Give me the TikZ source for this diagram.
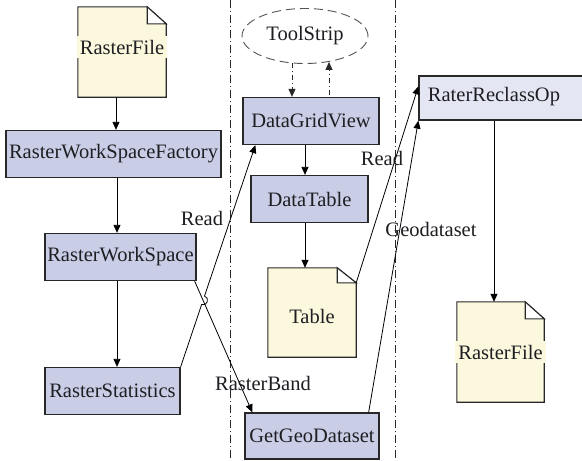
\documentclass[tikz,border=0pt]{standalone}
\usepackage{fontspec}
\setmainfont{Liberation Serif}
\newfontfamily\diagfont{Liberation Serif}
\usetikzlibrary{arrows.meta,calc,shapes.geometric,intersections}
\definecolor{boxfill}{RGB}{201,206,230}
\definecolor{boxfilllt}{RGB}{228,231,243}
\definecolor{docfill}{RGB}{251,248,221}
\definecolor{edge}{RGB}{40,40,40}
\definecolor{txt}{RGB}{30,30,35}
\begin{document}
\begin{tikzpicture}[x=1pt,y=-1pt,
  every node/.style={font=\diagfont\fontsize{20.5}{24}\selectfont, text=txt},
  box/.style={draw=edge, fill=boxfill, line width=1.3pt, inner sep=0pt, minimum height=47pt},
  boxlt/.style={box, fill=boxfilllt},
  docframe/.style={draw=none, inner sep=0pt},
  docline/.style={draw=edge, fill=docfill, line width=1.1pt},
  doctext/.style={fill=docfill, inner xsep=3pt, inner ysep=4pt},
  arr/.style={draw=black, line width=0.8pt, -{Triangle[length=8pt,width=7pt]}},
  ddarr/.style={draw=edge, line width=0.9pt, dash pattern=on 5pt off 3pt on 1pt off 3pt, -{Triangle[length=8pt,width=7pt]}},
  sep/.style={draw=edge, line width=0.8pt, dash pattern=on 8pt off 3pt on 1pt off 3pt},
  lbl/.style={fill=none, inner sep=1pt}
]
\useasboundingbox (0,0) rectangle (582,461);
\fill[white] (0,0) rectangle (582,461);

% separators
\coordinate (s1t) at (230,0); \coordinate (s1b) at (230,461);
\coordinate (s2t) at (395,0); \coordinate (s2b) at (395,461);
\draw[sep] (s1t) -- (s1b);
\draw[sep] (s2t) -- (s2b);

% left column
\node[docframe, minimum width=88pt, minimum height=90pt] (rf1) at (122,52) {};
\draw[docline] (rf1.north west) -- ($(rf1.north east)+(-19,0)$) -- ($(rf1.north east)+(0,17)$) -- (rf1.south east) -- (rf1.south west) -- cycle;
\draw[docline, fill=white] ($(rf1.north east)+(-19,0)$) -- ($(rf1.north east)+(-19,17)$) -- ($(rf1.north east)+(0,17)$) -- cycle;
\node[doctext] (rf1t) at ($(rf1)+(0,-5)$) {RasterFile};

\node[box, minimum width=215pt] (rwsf) at (113.5,154) {RasterWorkSpaceFactory};
\node[box, minimum width=151pt] (rws) at (120.5,257) {RasterWorkSpace};
\node[box, minimum width=135pt] (rst) at (112.5,391) {RasterStatistics};

% middle column
\node[ellipse, draw=edge!80, line width=0.9pt, dash pattern=on 9pt off 5pt, minimum width=126pt, minimum height=55pt, inner sep=0pt] (ts) at (305,36) {ToolStrip};
\node[box, minimum width=136pt] (dgv) at (311,121) {DataGridView};
\node[box, minimum width=117pt] (dt) at (309.5,199) {DataTable};

\node[docframe, minimum width=88pt, minimum height=89pt] (tb) at (312,312.5) {};
\draw[docline] (tb.north west) -- ($(tb.north east)+(-19,0)$) -- ($(tb.north east)+(0,15)$) -- (tb.south east) -- (tb.south west) -- cycle;
\draw[docline, fill=white] ($(tb.north east)+(-19,0)$) -- ($(tb.north east)+(-19,15)$) -- ($(tb.north east)+(0,15)$) -- cycle;
\node[doctext] (tbt) at ($(tb)+(0,4)$) {Table};

\node[box, minimum width=134pt, minimum height=46pt] (ggd) at (312,436) {GetGeoDataset};

% right column
\node[boxlt, minimum width=170pt, minimum height=44pt] (rro) at (504,98) {};
\node[lbl] (rrot) at (494,97) {RaterReclassOp};

\node[docframe, minimum width=87pt, minimum height=100pt] (rf2) at (500.5,352) {};
\draw[docline] (rf2.north west) -- ($(rf2.north east)+(-19,0)$) -- ($(rf2.north east)+(0,17)$) -- (rf2.south east) -- (rf2.south west) -- cycle;
\draw[docline, fill=white] ($(rf2.north east)+(-19,0)$) -- ($(rf2.north east)+(-19,17)$) -- ($(rf2.north east)+(0,17)$) -- cycle;
\node[doctext] (rf2t) at (rf2) {RasterFile};

% vertical arrows
\coordinate (a1) at (116,0);
\draw[arr] (rf1.south -| a1) -- (rwsf.north -| a1);
\coordinate (a2) at (117,0);
\draw[arr] (rwsf.south -| a2) -- (rws.north -| a2);
\draw[arr] (rws.south -| a2) -- (rst.north -| a2);
\coordinate (a3) at (305,0);
\draw[arr] (dgv.south -| a3) -- (dt.north -| a3);
\draw[arr] (dt.south -| a3) -- (tb.north -| a3);
\coordinate (a4) at (494,0);
\draw[arr] (rro.south -| a4) -- (rf2.north -| a4);

% toolstrip arrows
\coordinate (d1) at (292,0);
\coordinate (d2) at (329,0);
\draw[ddarr] ($(ts.south -| d1)+(0,-1)$) -- (dgv.north -| d1);
\draw[ddarr] ($(dgv.north -| d2)+(0,-2)$) -- ($(ts.south -| d2)+(0,-2)$);

% crossing lines
\coordinate (readend) at ($(dgv.south west)+(13,0)$);
\coordinate (rbstart) at ($(rws.south east)+(-2,0)$);
\coordinate (rbend) at ($(ggd.north west)+(8,0)$);
\path[name path=readp] (rst.north east) -- (readend);
\path[name path=rbp] (rbstart) -- (rbend);
\path[name intersections={of=readp and rbp, by=X}];
\coordinate (h1) at ($(X)!4.5pt!(rst.north east)$);
\coordinate (h2) at ($(X)!4.5pt!(readend)$);
\draw[line width=0.8pt] (rst.north east) -- (h1)
  .. controls ($(h1)!6pt!-90:(X)$) and ($(h2)!6pt!90:(X)$) .. (h2);
\draw[arr] (h2) -- (readend);
\draw[arr] (rbstart) -- (rbend);

\coordinate (r2s) at ($(tb.north east)+(0,15)$);
\coordinate (r2e) at ($(rro.north west)+(0,11)$);
\draw[arr] (r2s) -- (r2e);
\coordinate (gs) at ($(ggd.north east)+(-11,0)$);
\draw[arr] (gs) -- (rro.south west);

% labels
\node[lbl] (l1) at (202,218) {Read};
\node[lbl] (l2) at (263,383) {RasterBand};
\node[lbl] (l3) at (382,158) {Read};
\node[lbl] (l4) at (431,229) {Geodataset};
\end{tikzpicture}
\end{document}
